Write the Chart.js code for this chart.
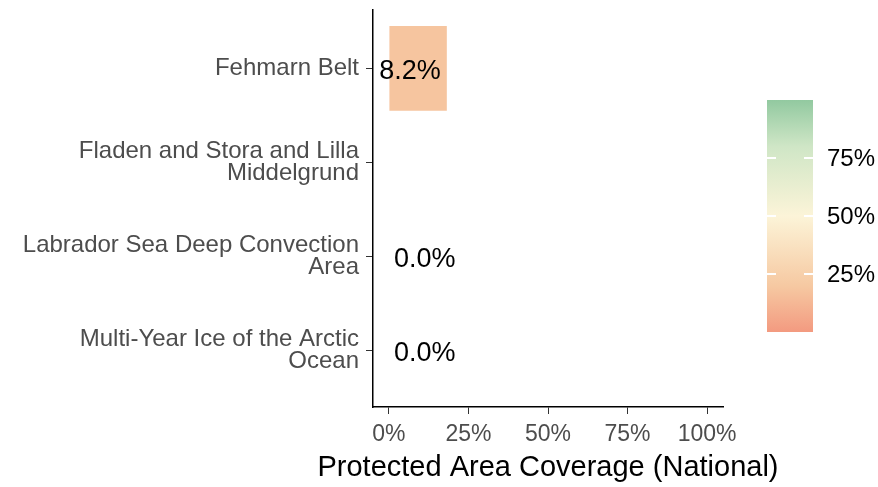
<!DOCTYPE html>
<html>
<head>
<meta charset="utf-8">
<script src="https://cdn.jsdelivr.net/npm/chart.js@4"></script>
<style>
  html, body { margin: 0; padding: 0; background: #fff; }
  #wrap { width: 878px; height: 487px; }
</style>
</head>
<body>
<div id="wrap"><canvas id="coverage-bar" width="878" height="487"></canvas></div>
<script>
// dados
const categories = [
    ['Fehmarn Belt'],
    ['Fladen and Stora and Lilla', 'Middelgrund'],
    ['Labrador Sea Deep Convection', 'Area'],
    ['Multi-Year Ice of the Arctic', 'Ocean']
];
const coverage = [18.2, null, 0, 0];
const valueLabels = ['8.2%', '', '0.0%', '0.0%'];
const xTicks = [0, 25, 50, 75, 100];
const legendTicks = [25, 50, 75];
const xTitle = 'Protected Area Coverage (National)';
const colourStops = [
    [0, '#F39A80'],
    [0.2, '#F6C9A2'],
    [0.5, '#FCF4D8'],
    [0.8, '#CFE6C6'],
    [1, '#92C9A0']
];

const FONT = "'Liberation Sans', Arial, sans-serif";

function hexToRgb(h) {
    const n = parseInt(h.slice(1), 16);
    return [(n >> 16) & 255, (n >> 8) & 255, n & 255];
}

function colourAt(v) {
    const t = v / 100;
    for (let i = 1; i < colourStops.length; i++) {
        const [t1, c1] = colourStops[i];
        const [t0, c0] = colourStops[i - 1];
        if (t <= t1) {
            const f = (t - t0) / (t1 - t0);
            const a = hexToRgb(c0), b = hexToRgb(c1);
            const c = a.map((x, k) => Math.round(x + (b[k] - x) * f));
            return 'rgb(' + c.join(',') + ')';
        }
    }
    return colourStops[colourStops.length - 1][1];
}

// rotulos de valor nas barras
const valueLabelPlugin = {
    id: 'valueLabels',
    afterDatasetsDraw(chart) {
        const { ctx, scales: { x, y } } = chart;
        ctx.save();
        ctx.font = '27px ' + FONT;
        ctx.fillStyle = '#000';
        ctx.textBaseline = 'middle';
        valueLabels.forEach((txt, i) => {
            if (!txt) return;
            const yy = y.getPixelForValue(i) + 3;
            if (coverage[i] > 0) {
                ctx.textAlign = 'right';
                ctx.fillText(txt, x.getPixelForValue(coverage[i]) - 6, yy);
            } else {
                ctx.textAlign = 'left';
                ctx.fillText(txt, x.getPixelForValue(0) + 5, yy);
            }
        });
        ctx.restore();
    }
};

// titulo do eixo x e barra de cores (legenda)
const extrasPlugin = {
    id: 'extras',
    afterDraw(chart) {
        const ctx = chart.ctx;
        const area = chart.chartArea;
        ctx.save();
        ctx.font = '29px ' + FONT;
        ctx.fillStyle = '#000';
        ctx.textAlign = 'center';
        ctx.textBaseline = 'alphabetic';
        ctx.fillText(xTitle, (area.left + area.right) / 2, 476);

        const left = 767, width = 46, top = 100, bottom = 332;
        const toY = v => bottom - v / 100 * (bottom - top);
        const grad = ctx.createLinearGradient(0, bottom, 0, top);
        colourStops.forEach(([t, c]) => grad.addColorStop(t, c));
        ctx.fillStyle = grad;
        ctx.fillRect(left, top, width, bottom - top);
        ctx.strokeStyle = '#fff';
        ctx.lineWidth = 2;
        legendTicks.forEach(v => {
            const yy = Math.round(toY(v));
            ctx.beginPath();
            ctx.moveTo(left, yy); ctx.lineTo(left + 9, yy);
            ctx.moveTo(left + width - 9, yy); ctx.lineTo(left + width, yy);
            ctx.stroke();
        });
        ctx.font = '24px ' + FONT;
        ctx.fillStyle = '#000';
        ctx.textAlign = 'left';
        ctx.textBaseline = 'middle';
        legendTicks.forEach(v => ctx.fillText(v + '%', 827, toY(v) + 1));
        ctx.restore();
    }
};

const ctx = document.getElementById('coverage-bar');

new Chart(ctx, {
    type: 'bar',
    data: {
        datasets: [{
            label: xTitle,
            data: coverage.map((v, i) => ({ x: v, y: i })),
            backgroundColor: coverage.map(v => v == null ? 'rgba(0,0,0,0)' : colourAt(v)),
            borderWidth: 0,
            barPercentage: 0.9,
            categoryPercentage: 1
        }]
    },
    options: {
        indexAxis: 'y',
        responsive: false,
        animation: false,
        layout: { padding: { top: 10, right: 155, left: 0, bottom: 0 } },
        plugins: { legend: { display: false }, tooltip: { enabled: false } },
        scales: {
            x: {
                type: 'linear',
                min: -5,
                max: 105,
                offset: false,
                afterBuildTicks: s => { s.ticks = xTicks.map(v => ({ value: v })); },
                afterFit: s => { s.height = 80; s.paddingLeft = 0; s.paddingRight = 0; },
                grid: { drawOnChartArea: false, offset: false, tickLength: 7, color: '#333', lineWidth: 1 },
                border: { display: true, color: '#000', width: 1.5 },
                ticks: {
                    padding: 7,
                    color: '#4D4D4D',
                    font: { family: FONT, size: 23 },
                    callback: v => v + '%'
                }
            },
            y: {
                type: 'linear',
                min: -0.62,
                max: 3.6,
                reverse: true,
                offset: false,
                afterBuildTicks: s => { s.ticks = categories.map((c, i) => ({ value: i })); },
                afterFit: s => { s.width = 373; s.paddingTop = 0; s.paddingBottom = 0; },
                grid: { drawOnChartArea: false, offset: false, tickLength: 7, color: '#333', lineWidth: 1 },
                border: { display: true, color: '#000', width: 1.5 },
                ticks: {
                    padding: 7,
                    color: '#4D4D4D',
                    font: { family: FONT, size: 24, lineHeight: 0.92 },
                    callback: v => categories[v]
                }
            }
        }
    },
    plugins: [valueLabelPlugin, extrasPlugin]
});
</script>
</body>
</html>
